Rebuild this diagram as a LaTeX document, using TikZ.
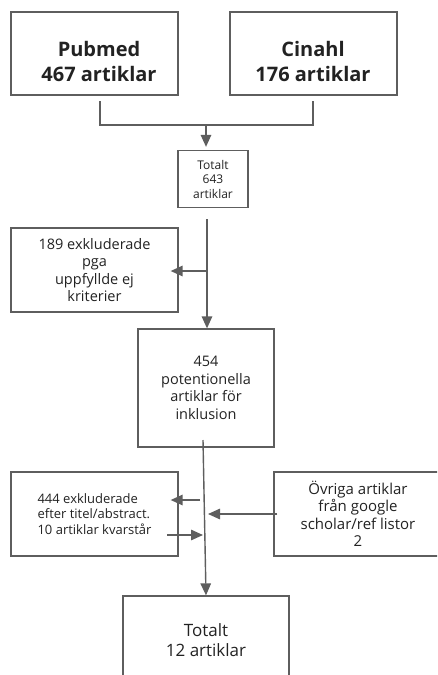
\documentclass[tikz,border=0pt]{standalone}
\usepackage{fontspec}
\setmainfont{Open Sans}
\usetikzlibrary{arrows.meta}
\definecolor{linegray}{HTML}{5E5E5E}
\definecolor{textgray}{HTML}{222222}
\tikzset{
  box/.style={draw=linegray, line width=1.3pt, rectangle, align=center, text=textgray, inner sep=2pt},
  title/.style={align=center, text=textgray, inner sep=0pt, font=\fontsize{20}{25}\selectfont\bfseries},
  line/.style={draw=linegray, line width=1.4pt},
  arr/.style={line, -{Triangle[length=12pt, width=10.5pt]}}
}

\begin{document}
\begin{tikzpicture}[x=1pt, y=-1pt]
\useasboundingbox (0,0) rectangle (437,675);
\clip (0,0) rectangle (437,675);

% databases
\node[box, minimum width=167pt, minimum height=83pt] (pubmed) at (94.5,53.5) {};
\node[title] (pubmedtxt) at (99,61) {Pubmed\\467 artiklar};
\node[box, minimum width=167pt, minimum height=83pt] (cinahl) at (313.5,53.5) {};
\node[title] (cinahltxt) at (313,61) {Cinahl\\176 artiklar};

% flow
\node[box, minimum width=70pt, minimum height=57pt, font=\fontsize{12}{14.5}\selectfont] (tot643) at (213,179) {Totalt\\643\\artiklar};
\node[box, minimum width=167pt, minimum height=84pt, font=\fontsize{14.5}{17.5}\selectfont] (excl189) at (94.5,270) {189 exkluderade\\pga\\uppfyllde ej\\kriterier};
\node[box, minimum width=136pt, minimum height=118pt, font=\fontsize{14.5}{17.5}\selectfont] (pot454) at (206,388) {454\\potentionella\\artiklar för\\inklusion};
\node[box, minimum width=167pt, minimum height=84pt, align=left, font=\fontsize{13}{15.5}\selectfont] (excl444) at (94.5,514) {444 exkluderade\\efter titel/abstract.\\10 artiklar kvarstår};
\node[box, minimum width=168pt, minimum height=84pt, font=\fontsize{15}{17.5}\selectfont] (ovriga) at (358,514) {Övriga artiklar\\från google\\scholar/ref listor\\2};
\node[box, minimum width=166pt, minimum height=88pt, font=\fontsize{17}{20.5}\selectfont] (tot12) at (206,640) {Totalt\\12 artiklar};

\coordinate (pb) at (100,101);
\coordinate (jl) at (100,125);
\coordinate (jm) at (206,125);
\coordinate (jr) at (313,125);
\coordinate (cb) at (313,101);
\coordinate (s1) at (207,219);
\coordinate (b1) at (207,271);
\coordinate (s2) at (203,440);
\coordinate (b2) at (200,500);
\coordinate (k1) at (167,535);
\coordinate (k2) at (203,535);
\coordinate (k3) at (208,514);

\draw[line] (pb) -- (jl) -- (jr) -- (cb);
\draw[arr, shorten >=3pt] (jm) -- (jm |- tot643.north);
\draw[arr] (s1) -- (s1 |- pot454.north);
\draw[arr, shorten >=-8pt] (b1) -- (excl189.east |- b1);
\draw[arr] (s2) -- (tot12.north);
\draw[arr, shorten >=-8pt] (b2) -- (excl444.east |- b2);
\draw[arr] (k1) -- (k2);
\draw[arr] ([xshift=4pt]ovriga.west) -- (k3);
\end{tikzpicture}
\end{document}
